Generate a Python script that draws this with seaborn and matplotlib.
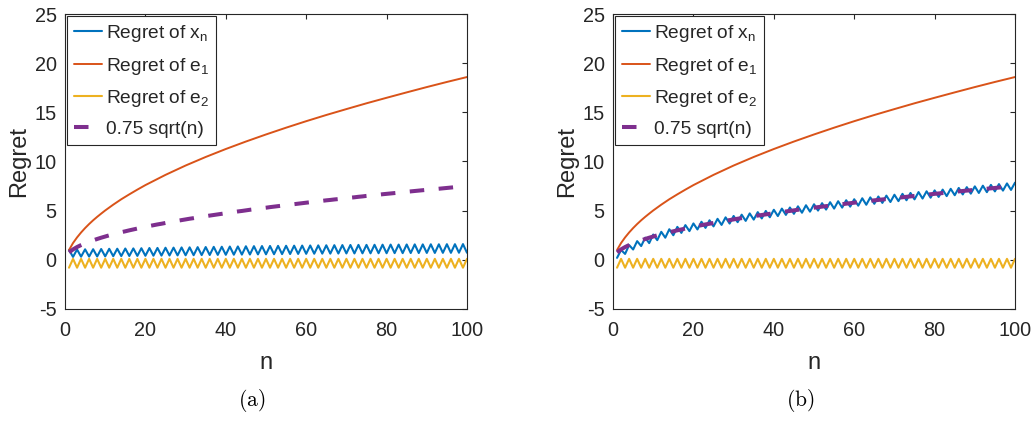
import matplotlib
matplotlib.use("Agg")
import matplotlib.pyplot as plt
import seaborn as sns

# ---------------- data ----------------
n = list(range(1, 101))

# Regret of e1 (smooth curve), read at selected n
red_n = [1, 2, 3, 4, 5, 6, 7, 8, 9, 10, 12, 14, 16, 18, 20, 25, 30, 35, 40, 45,
         50, 55, 60, 65, 70, 75, 80, 85, 90, 95, 100]
red_v = [1.00, 1.71, 2.28, 2.78, 3.23, 3.64, 4.02, 4.37, 4.70, 5.02, 5.61, 6.16,
         6.66, 7.14, 7.60, 8.64, 9.59, 10.46, 11.27, 12.03, 12.75, 13.44, 14.10,
         14.73, 15.33, 15.92, 16.48, 17.03, 17.57, 18.09, 18.59]

# Regret of e2 (alternating)
e2 = [-0.8, 0.1, -0.8, 0.1, -0.8, 0.1, -0.8, 0.1, -0.8, 0.1,
      -0.8, 0.1, -0.8, 0.1, -0.8, 0.1, -0.8, 0.1, -0.8, 0.1,
      -0.8, 0.1, -0.8, 0.1, -0.8, 0.1, -0.8, 0.1, -0.8, 0.1,
      -0.8, 0.1, -0.8, 0.1, -0.8, 0.1, -0.8, 0.1, -0.8, 0.1,
      -0.8, 0.1, -0.8, 0.1, -0.8, 0.1, -0.8, 0.1, -0.8, 0.1,
      -0.8, 0.1, -0.8, 0.1, -0.8, 0.1, -0.8, 0.1, -0.8, 0.1,
      -0.8, 0.1, -0.8, 0.1, -0.8, 0.1, -0.8, 0.1, -0.8, 0.1,
      -0.8, 0.1, -0.8, 0.1, -0.8, 0.1, -0.8, 0.1, -0.8, 0.1,
      -0.8, 0.1, -0.8, 0.1, -0.8, 0.1, -0.8, 0.1, -0.8, 0.1,
      -0.8, 0.1, -0.8, 0.1, -0.8, 0.1, -0.8, 0.1, -0.8, 0.1]

# 0.75 sqrt(n) reference
ref = [0.75, 1.06, 1.30, 1.50, 1.68, 1.84, 1.98, 2.12, 2.25, 2.37,
       2.49, 2.60, 2.70, 2.81, 2.90, 3.00, 3.09, 3.18, 3.27, 3.35,
       3.44, 3.52, 3.60, 3.67, 3.75, 3.82, 3.90, 3.97, 4.04, 4.11,
       4.18, 4.24, 4.31, 4.37, 4.44, 4.50, 4.56, 4.62, 4.68, 4.74,
       4.80, 4.86, 4.92, 4.97, 5.03, 5.09, 5.14, 5.20, 5.25, 5.30,
       5.36, 5.41, 5.46, 5.51, 5.56, 5.61, 5.66, 5.71, 5.76, 5.81,
       5.86, 5.91, 5.95, 6.00, 6.05, 6.09, 6.14, 6.18, 6.23, 6.27,
       6.32, 6.36, 6.41, 6.45, 6.50, 6.54, 6.58, 6.62, 6.67, 6.71,
       6.75, 6.79, 6.83, 6.87, 6.92, 6.96, 7.00, 7.04, 7.08, 7.12,
       7.15, 7.19, 7.23, 7.27, 7.31, 7.35, 7.39, 7.42, 7.46, 7.50]

# Regret of x_n, panel (a)
xn_a = [1.00, 0.30, 1.05, 0.32, 1.07, 0.33, 1.08, 0.34, 1.10, 0.35,
        1.12, 0.37, 1.13, 0.38, 1.15, 0.39, 1.16, 0.40, 1.18, 0.41,
        1.20, 0.42, 1.21, 0.43, 1.23, 0.44, 1.24, 0.45, 1.26, 0.46,
        1.27, 0.47, 1.29, 0.48, 1.30, 0.49, 1.32, 0.50, 1.33, 0.51,
        1.35, 0.52, 1.36, 0.53, 1.38, 0.54, 1.39, 0.55, 1.40, 0.56,
        1.41, 0.57, 1.42, 0.58, 1.43, 0.59, 1.44, 0.60, 1.45, 0.61,
        1.46, 0.62, 1.47, 0.63, 1.48, 0.63, 1.49, 0.64, 1.50, 0.65,
        1.51, 0.65, 1.52, 0.66, 1.52, 0.66, 1.53, 0.67, 1.54, 0.67,
        1.55, 0.68, 1.55, 0.68, 1.56, 0.69, 1.57, 0.69, 1.57, 0.70,
        1.58, 0.70, 1.58, 0.71, 1.59, 0.71, 1.59, 0.72, 1.60, 0.72]

# Regret of x_n, panel (b)
xn_b = [0.20, 1.00, 0.60, 1.50, 1.05, 1.90, 1.40, 2.25, 1.70, 2.57,
        2.00, 2.85, 2.25, 3.11, 2.50, 3.35, 2.74, 3.53, 2.92, 3.70,
        3.09, 3.87, 3.25, 4.02, 3.40, 4.17, 3.55, 4.32, 3.69, 4.46,
        3.83, 4.59, 3.96, 4.72, 4.09, 4.85, 4.21, 4.97, 4.33, 5.09,
        4.45, 5.21, 4.57, 5.32, 4.68, 5.44, 4.79, 5.55, 4.90, 5.65,
        5.01, 5.76, 5.11, 5.86, 5.21, 5.96, 5.31, 6.06, 5.41, 6.16,
        5.51, 6.26, 5.60, 6.35, 5.70, 6.44, 5.79, 6.53, 5.88, 6.62,
        5.97, 6.71, 6.06, 6.80, 6.15, 6.89, 6.23, 6.97, 6.32, 7.06,
        6.40, 7.14, 6.48, 7.22, 6.57, 7.31, 6.65, 7.39, 6.73, 7.47,
        6.80, 7.54, 6.88, 7.62, 6.96, 7.70, 7.04, 7.77, 7.11, 7.85]

labels = ["Regret of x$_{\\mathrm{n}}$", "Regret of e$_{\\mathrm{1}}$",
          "Regret of e$_{\\mathrm{2}}$", "0.75 sqrt(n)"]
xticks = [0, 20, 40, 60, 80, 100]
yticks = [-5, 0, 5, 10, 15, 20, 25]
captions = ["(a)", "(b)"]

BLUE, RED, YELLOW, PURPLE = "#0072BD", "#D95319", "#EDB120", "#7E2F8E"
DARK = "#262626"

# ---------------- style ----------------
sns.set_theme(style="white")
plt.rcParams.update({
    "font.family": ["Liberation Sans", "DejaVu Sans"],
    "mathtext.fontset": "custom",
    "mathtext.rm": "Liberation Sans",
    "mathtext.it": "Liberation Sans:italic",
    "mathtext.bf": "Liberation Sans:bold",
    "axes.edgecolor": DARK,
    "axes.linewidth": 0.8,
    "axes.unicode_minus": False,
})

fig = plt.figure(figsize=(10.35, 4.22), dpi=100)
axes = [fig.add_axes([0.0628, 0.2678, 0.3884, 0.699]),
        fig.add_axes([0.5923, 0.2678, 0.3884, 0.699])]

for ax, xn, cap in zip(axes, [xn_a, xn_b], captions):
    sns.lineplot(x=n, y=xn, ax=ax, color=BLUE, lw=1.5, label=labels[0])
    sns.lineplot(x=red_n, y=red_v, ax=ax, color=RED, lw=1.4, label=labels[1])
    sns.lineplot(x=n, y=e2, ax=ax, color=YELLOW, lw=1.5, label=labels[2])
    sns.lineplot(x=n, y=ref, ax=ax, color=PURPLE, lw=2.9,
                 linestyle=(0, (3.6, 3.6)), label=labels[3])
    ax.set_xlim(0, 100)
    ax.set_ylim(-5, 25)
    ax.set_xticks(xticks)
    ax.set_yticks(yticks)
    ax.tick_params(direction="in", top=True, right=True, length=3.6, width=0.8,
                   color=DARK, labelcolor=DARK, labelsize=14.3)
    ax.tick_params(axis="x", pad=8.5)
    ax.tick_params(axis="y", pad=6)
    ax.set_xlabel("n", fontsize=17, color=DARK, labelpad=9)
    ax.set_ylabel("Regret", fontsize=17, color=DARK, labelpad=3)
    for s in ax.spines.values():
        s.set_visible(True)
        s.set_color(DARK)
        s.set_linewidth(0.8)
    leg = ax.legend(loc="upper left", fontsize=13.8, frameon=True, fancybox=False,
                    edgecolor=DARK, framealpha=1, borderaxespad=0.12,
                    handlelength=1.45, handletextpad=0.2, labelspacing=0.6,
                    borderpad=0.35)
    leg.get_frame().set_linewidth(0.8)

fig.text(252 / 1035, 1 - 400 / 422, "$\\mathrm{(a)}$", ha="center", va="center",
         fontsize=15.5, math_fontfamily="cm", color="black")
fig.text(800 / 1035, 1 - 400 / 422, "$\\mathrm{(b)}$", ha="center", va="center",
         fontsize=15.5, math_fontfamily="cm", color="black")

fig.savefig("out.png", dpi=100)
